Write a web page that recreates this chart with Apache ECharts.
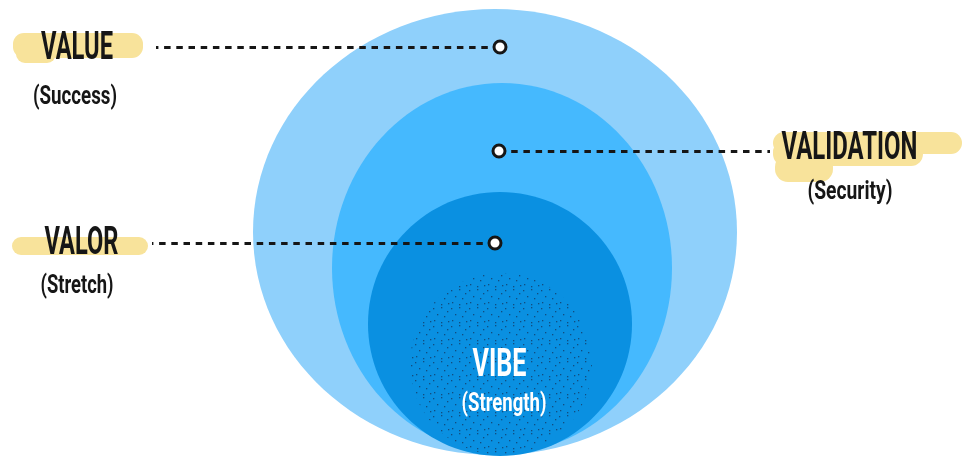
<!DOCTYPE html>
<html><head><meta charset="utf-8">
<script src="https://cdn.jsdelivr.net/npm/echarts@6/dist/echarts.min.js"></script>
<style>html,body{margin:0;padding:0;background:#fff}#c{width:969px;height:457px}</style>
</head><body><div id="c"></div>
<script>
// ---- data ----
const layerNames = ['Value', 'Validation', 'Valor'];
const layerCx = [495, 502, 500];
const layerCy = [232, 268, 324];
const layerRx = [242, 170, 132];
const layerRy = [223, 185, 132];
const coreCx = [501];
const coreCy = [364];
const coreR = [91];
const markerX = [500, 499, 495];
const markerY = [47, 151, 243];
const leaderEndX = [156, 770, 152];
const titles = ['VALUE', 'VALIDATION', 'VALOR'];
const subtitles = ['(Success)', '(Security)', '(Stretch)'];
const coreTitle = 'VIBE';
const coreSubtitle = '(Strength)';

// ---- styles / layout ----
const layerColors = ['#8FD0FB', '#45B9FE', '#0A90E1'];
const ink = '#161616';
const hl = '#F8E39B';
const titleFont = 'bold 38px Roboto, "Liberation Sans", sans-serif';
const subFont = 'bold 26px Roboto, "Liberation Sans", sans-serif';

const mctx = document.createElement('canvas').getContext('2d');
function fit(text, font, w) { mctx.font = font; return w / mctx.measureText(text).width; }

// dot texture
const pat = document.createElement('canvas');
pat.width = 18; pat.height = 18;
const pctx = pat.getContext('2d');
pctx.fillStyle = 'rgba(22,55,95,0.75)';
[[1,2],[9,1],[15,5],[5,8],[12,10],[2,14],[9,16],[16,15]].forEach(p => pctx.fillRect(p[0], p[1], 1.3, 1.3));

// text placements [cx, cyCapMiddle, inkWidth]
const titlePos = [[77, 49.5, 72], [849.5, 149, 136], [81.5, 244, 74]];
const subPos = [[75, 97, 84], [850, 192, 85], [77, 286, 73]];

const graphics = [];
// highlighter strokes
[[13,33,130,25,11],[16,44,40,19,9],
 [773,132,189,22,11],[773,140,150,26,12],[775,154,58,28,13],
 [12,237,136,18,9]].forEach(r => graphics.push({type:'rect', z:1, shape:{x:r[0], y:r[1], width:r[2], height:r[3], r:r[4]}, style:{fill:hl}}));
titles.forEach((t, i) => {
  const p = titlePos[i];
  graphics.push({type:'text', z:5, x:p[0], y:p[1], scaleX: fit(t, titleFont, p[2]),
    style:{text:t, font:titleFont, fill:ink, align:'center', verticalAlign:'middle'}});
});
subtitles.forEach((t, i) => {
  const p = subPos[i];
  graphics.push({type:'text', z:5, x:p[0], y:p[1], scaleX: fit(t, subFont, p[2]),
    style:{text:t, font:subFont, fill:ink, align:'center', verticalAlign:'middle'}});
});
graphics.push({type:'text', z:5, x:499.5, y:366, scaleX: fit(coreTitle, titleFont, 54),
  style:{text:coreTitle, font:titleFont, fill:'#fff', align:'center', verticalAlign:'middle'}});
graphics.push({type:'text', z:5, x:504, y:404, scaleX: fit(coreSubtitle, subFont, 85),
  style:{text:coreSubtitle, font:subFont, fill:'#fff', align:'center', verticalAlign:'middle'}});

const chart = echarts.init(document.getElementById('c'), null, {renderer:'canvas'});
chart.setOption({
  animation: false,
  grid: {left:0, right:0, top:0, bottom:0},
  xAxis: {type:'value', min:0, max:969, show:false},
  yAxis: {type:'value', min:0, max:457, inverse:true, show:false},
  graphic: graphics,
  series: [
    {
      type:'custom', z:1, silent:true,
      data: layerNames.map((n, i) => [layerCx[i], layerCy[i], layerRx[i], layerRy[i]]),
      renderItem(params, api) {
        const c = api.coord([api.value(0), api.value(1)]);
        const s = api.size([api.value(2), api.value(3)]);
        return {type:'ellipse', shape:{cx:c[0], cy:c[1], rx:s[0], ry:s[1]}, style:{fill:layerColors[params.dataIndex]}};
      }
    },
    {
      type:'custom', z:2, silent:true,
      data: coreCx.map((x, i) => [x, coreCy[i], coreR[i]]),
      renderItem(params, api) {
        const c = api.coord([api.value(0), api.value(1)]);
        const s = api.size([api.value(2), api.value(2)]);
        return {type:'circle', shape:{cx:c[0], cy:c[1], r:s[0]}, style:{fill:{image:pat, repeat:'repeat'}}};
      }
    },
    {
      type:'lines', coordinateSystem:'cartesian2d', z:3, silent:true,
      lineStyle:{color:ink, width:3, type:[6.5,5.7], opacity:1},
      data: markerX.map((x, i) => ({coords:[[x, markerY[i]], [leaderEndX[i], markerY[i]]]}))
    },
    {
      type:'scatter', z:4, silent:true, symbol:'circle', symbolSize:12,
      itemStyle:{color:'#fff', borderColor:ink, borderWidth:3, opacity:1},
      data: markerX.map((x, i) => [x, markerY[i]])
    }
  ]
});
</script></body></html>
